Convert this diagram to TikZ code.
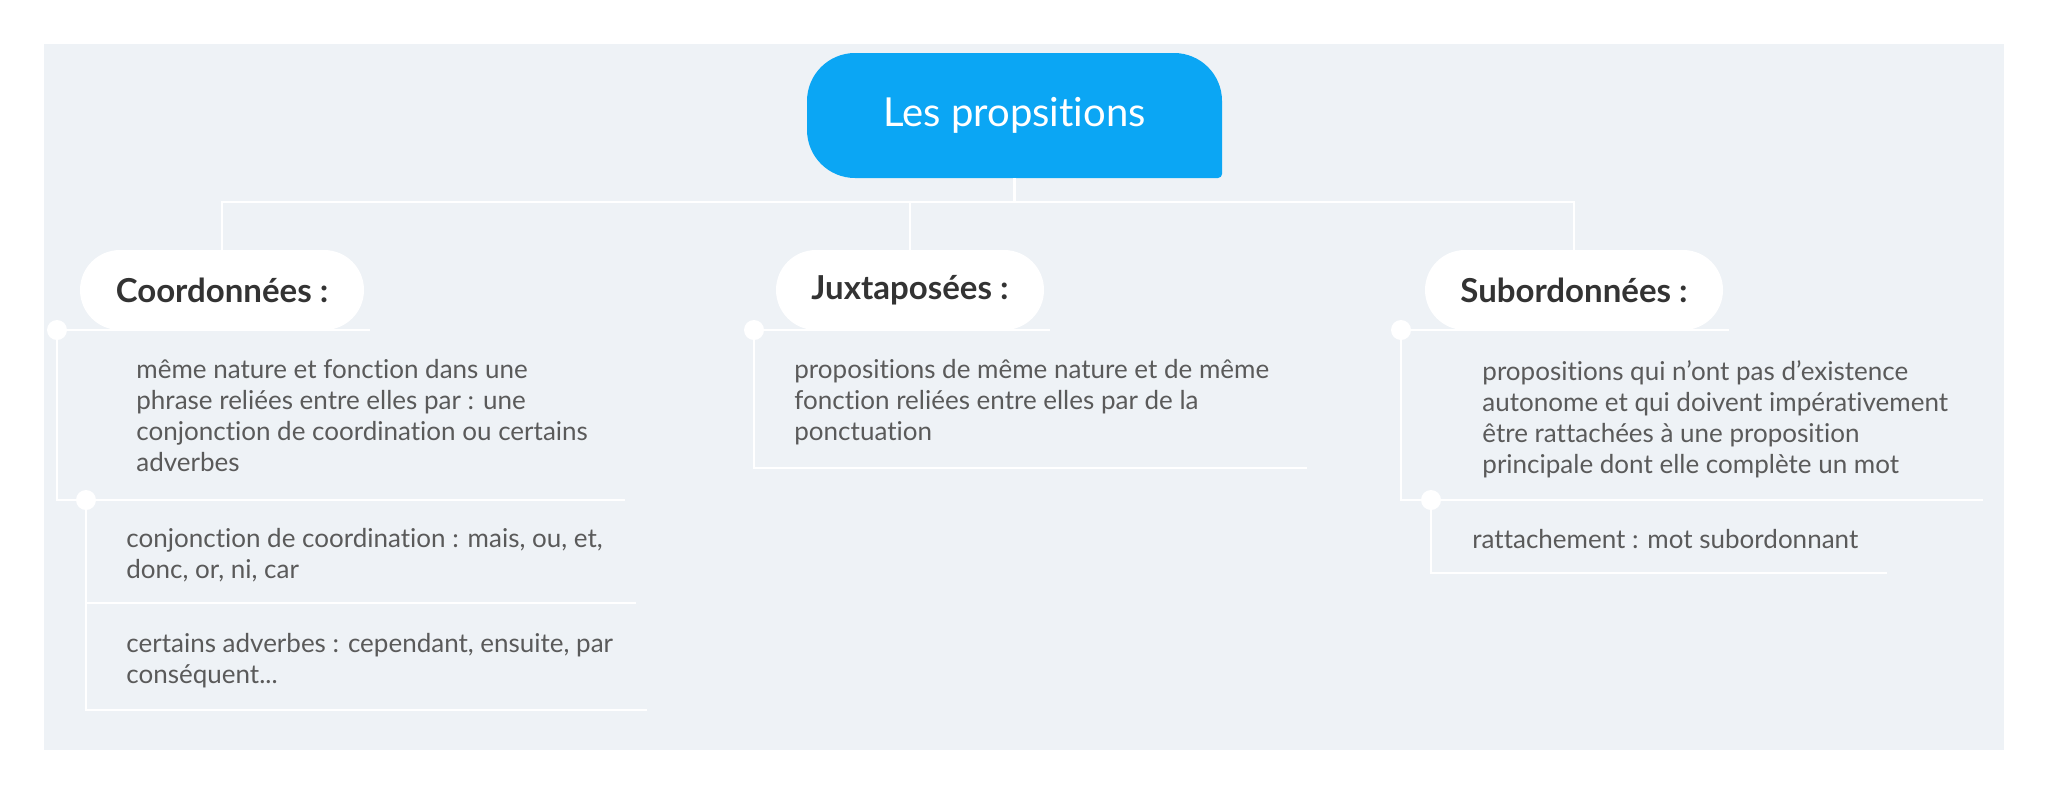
\documentclass[tikz,border=0pt]{standalone}
\usepackage{fontspec}
\setmainfont{Lato}[Ligatures={NoCommon}]
\definecolor{panel}{HTML}{EEF2F6}
\definecolor{rootblue}{HTML}{0BA6F4}
\definecolor{itemgray}{HTML}{5A5A5A}
\definecolor{catgray}{HTML}{333333}

\begin{document}
\begin{tikzpicture}[x=0.5pt, y=-0.5pt,
    link/.style={draw=white, line width=1.2pt},
    dot/.style={circle, fill=white, inner sep=0pt, minimum size=10pt},
    cat/.style={fill=white, rounded corners=20pt, minimum height=40pt,
                text=catgray, font=\fontsize{16.5}{19}\selectfont\bfseries},
    item/.style={anchor=base west, align=left, inner sep=0pt, text=itemgray,
                 font=\fontsize{13}{15.5}\selectfont}]
  \useasboundingbox (0,0) rectangle (2048,793);
  \fill[panel] (44,44) rectangle (2004,750);

  \fill[rootblue] (1222,178) [rounded corners=24pt] -- (1222,53) -- (807,53) -- (807,178) [rounded corners=2pt] -- cycle;
  \node[minimum width=207.5pt, minimum height=62.5pt, text=white, font=\fontsize{20}{23}\selectfont] (root) at (1014.5,115.5) {Les propsitions};

  \node[cat, minimum width=142pt] (coord) at (222,290) {Coordonnées :};
  \node[cat, minimum width=134pt] (juxt) at (910,290) {Juxtaposées :};
  \node[cat, minimum width=149pt] (sub) at (1574,290) {Subordonnées :};

  \coordinate (bus) at (1014.5,202);
  \draw[link] (root.south) -- (bus);
  \foreach \n in {coord, juxt, sub}
    \draw[link] (bus) -| (\n.north);

  % Coordonnées
  \node[item] (c1) at (136,471) {même nature et fonction dans une\\phrase reliées entre elles par : une\\conjonction de coordination ou certains\\adverbes};
  \node[item] (c2) at (126,578) {conjonction de coordination : mais, ou, et,\\donc, or, ni, car};
  \node[item] (c3) at (126,683) {certains adverbes : cependant, ensuite, par\\conséquent...};
  \coordinate (ca) at (57,330);   \coordinate (cae) at (370,330);
  \coordinate (cb) at (57,500);   \coordinate (cbe) at (625,500);
  \coordinate (cc) at (86,500);
  \coordinate (cd) at (86,603);   \coordinate (cde) at (636,603);
  \coordinate (cf) at (86,710);   \coordinate (cfe) at (647,710);
  \draw[link] (ca) -- (cae) (ca) -- (cb) -- (cbe) (cc) -- (cf) -- (cfe) (cd) -- (cde);
  \node[dot] (dc1) at (ca) {};
  \node[dot] (dc2) at (cc) {};

  % Juxtaposées
  \node[item] (j1) at (794,440) {propositions de même nature et de même\\fonction reliées entre elles par de la\\ponctuation};
  \coordinate (ja) at (754,330);  \coordinate (jae) at (1050,330);
  \coordinate (jb) at (754,468);  \coordinate (jbe) at (1307,468);
  \draw[link] (ja) -- (jae) (ja) -- (jb) -- (jbe);
  \node[dot] (dj1) at (ja) {};

  % Subordonnées
  \node[item] (s1) at (1482,473) {propositions qui n'ont pas d'existence\\autonome et qui doivent impérativement\\être rattachées à une proposition\\principale dont elle complète un mot};
  \node[item] (s2) at (1472,548) {rattachement : mot subordonnant};
  \coordinate (sa) at (1401,330); \coordinate (sae) at (1729,330);
  \coordinate (sb) at (1401,500); \coordinate (sbe) at (1983,500);
  \coordinate (sc) at (1431,500);
  \coordinate (sd) at (1431,573); \coordinate (sde) at (1887,573);
  \draw[link] (sa) -- (sae) (sa) -- (sb) -- (sbe) (sc) -- (sd) -- (sde);
  \node[dot] (ds1) at (sa) {};
  \node[dot] (ds2) at (sc) {};
\end{tikzpicture}
\end{document}
